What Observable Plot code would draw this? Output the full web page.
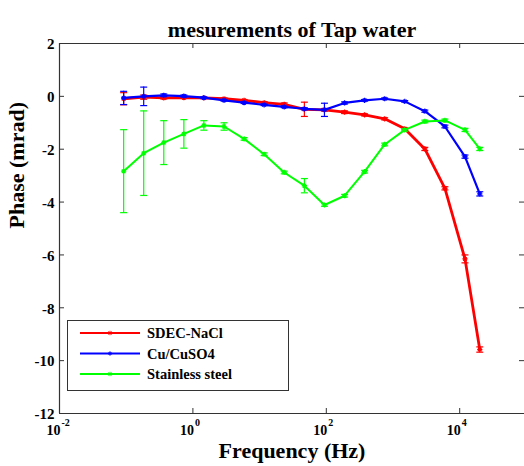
<!DOCTYPE html>
<html>
<head>
<meta charset="utf-8">
<script src="https://cdn.jsdelivr.net/npm/d3@7"></script>
<script src="https://cdn.jsdelivr.net/npm/@observablehq/plot@0.6"></script>
<style>
  html, body { margin: 0; padding: 0; background: white; }
  #chart svg { display: block; }
</style>
</head>
<body>
<div id="chart"></div>
<script>
// Frequencies (Hz)
const freq = [0.0916, 0.183, 0.366, 0.732, 1.46, 2.93, 5.86, 11.7, 23.4, 46.9, 93.8, 188, 375, 750, 1500, 3000, 6000, 12000, 20000];
// Phase (mrad) and error half-widths
const sdecNaCl = [-0.09, -0.03, -0.06, -0.05, -0.06, -0.09, -0.15, -0.24, -0.30, -0.49, -0.51, -0.60, -0.70, -0.85, -1.23, -1.99, -3.48, -6.15, -9.58];
const sdecErr  = [0.23, 0.08, 0.04, 0.03, 0.03, 0.03, 0.03, 0.04, 0.05, 0.27, 0.05, 0.05, 0.04, 0.04, 0.04, 0.06, 0.06, 0.15, 0.10];
const cuCuSO4  = [-0.06, 0.00, 0.04, 0.01, -0.05, -0.15, -0.24, -0.32, -0.40, -0.47, -0.51, -0.25, -0.15, -0.09, -0.19, -0.56, -1.14, -2.28, -3.69];
const cuErr    = [0.25, 0.35, 0.05, 0.04, 0.03, 0.03, 0.03, 0.03, 0.03, 0.04, 0.25, 0.04, 0.03, 0.03, 0.03, 0.04, 0.05, 0.06, 0.08];
const steel    = [-2.83, -2.15, -1.75, -1.42, -1.10, -1.14, -1.61, -2.19, -2.88, -3.38, -4.11, -3.76, -2.85, -1.82, -1.27, -0.95, -0.91, -1.27, -1.99];
const steelErr = [1.57, 1.60, 0.83, 0.54, 0.18, 0.14, 0.05, 0.05, 0.05, 0.27, 0.05, 0.05, 0.05, 0.05, 0.05, 0.05, 0.05, 0.06, 0.06];

const seriesNames = ["SDEC-NaCl", "Cu/CuSO4", "Stainless steel"];
const seriesColors = ["#ff0000", "#0000ff", "#00ff00"];
const seriesWidths = [2.8, 2.2, 2];

const yTicks = [-12, -10, -8, -6, -4, -2, 0, 2];
const xTicks = [1e-2, 1e0, 1e2, 1e4];

const title = "mesurements of Tap water";
const xLabel = "Frequency (Hz)";
const yLabel = "Phase (mrad)";

const values = [sdecNaCl, cuCuSO4, steel];
const errs = [sdecErr, cuErr, steelErr];
const rows = [];
values.forEach((vals, s) => vals.forEach((v, i) => rows.push({
  series: seriesNames[s], f: freq[i], v, e: errs[s][i]
})));

const serif = "'Liberation Serif', 'Times New Roman', Times, serif";

const hline = {draw(ctx, size) { const r = Math.sqrt(size / Math.PI); ctx.moveTo(-r, 0); ctx.lineTo(r, 0); }};
const cross = {draw(ctx, size) { const r = Math.sqrt(size / Math.PI);
  ctx.moveTo(-r, 0); ctx.lineTo(r, 0); ctx.moveTo(0, -r); ctx.lineTo(0, r);
  const q = r * 0.7; ctx.moveTo(-q, -q); ctx.lineTo(q, q); ctx.moveTo(-q, q); ctx.lineTo(q, -q); }};

const W = 524, H = 466, ML = 59, MT = 43, MB = 53, MR = 0;
const plotW = W - ML - MR, plotH = H - MT - MB;
const axisColor = "#333";

const seriesMarks = seriesNames.flatMap((name, s) => {
  const d = rows.filter(r => r.series === name);
  return [
    Plot.line(d, {x: "f", y: "v", stroke: seriesColors[s], strokeWidth: seriesWidths[s]}),
    Plot.ruleX(d, {x: "f", y1: r => r.v - r.e, y2: r => r.v + r.e, stroke: seriesColors[s], strokeWidth: 1.2}),
    Plot.dot(d, {x: "f", y: r => r.v + r.e, symbol: hline, r: 3.5, stroke: seriesColors[s], strokeWidth: 1.2}),
    Plot.dot(d, {x: "f", y: r => r.v - r.e, symbol: hline, r: 3.5, stroke: seriesColors[s], strokeWidth: 1.2}),
    Plot.dot(d, {x: "f", y: "v", symbol: cross, r: 2.6, stroke: seriesColors[s], strokeWidth: 1.2})
  ];
});

const chart = Plot.plot({
  width: W, height: H,
  marginLeft: ML, marginTop: MT, marginBottom: MB, marginRight: MR,
  style: {fontFamily: serif, background: "white", overflow: "visible"},
  x: {type: "log", domain: [1e-2, 1e5], range: [ML, ML + 7 * 66.7], axis: null},
  y: {domain: [-12, 2], axis: null},
  marks: [
    ...seriesMarks,
    // axes box
    Plot.ruleY([2, -12], {stroke: axisColor, strokeWidth: 1.2}),
    Plot.ruleX([1e-2], {stroke: axisColor, strokeWidth: 1.2}),
    // inward ticks
    Plot.tickY(yTicks, {y: d => d, insetRight: plotW - 5, stroke: axisColor}),
    Plot.tickY(yTicks, {y: d => d, insetLeft: plotW - 5, stroke: axisColor}),
    Plot.tickX(xTicks, {x: d => d, insetTop: plotH - 5, stroke: axisColor}),
    Plot.tickX(xTicks, {x: d => d, insetBottom: plotH - 5, stroke: axisColor}),
    // tick labels
    Plot.text(yTicks, {y: d => d, frameAnchor: "left", text: d => String(d), textAnchor: "end", dx: -5, dy: 1, fontSize: 15, fontWeight: "bold", fill: "black"}),
    Plot.text(xTicks, {x: d => d, frameAnchor: "bottom", text: () => "10", textAnchor: "end", dx: 1, dy: 21, fontSize: 14, fontWeight: "bold", fill: "black"}),
    Plot.text(xTicks, {x: d => d, frameAnchor: "bottom", text: d => String(Math.round(Math.log10(d))), textAnchor: "start", dx: 2, dy: 12, fontSize: 10, fontWeight: "bold", fill: "black"}),
    // title and axis labels
    Plot.text([title], {frameAnchor: "top", text: d => d, dy: -22, fontSize: 22, fontWeight: "bold", fill: "black"}),
    Plot.text([xLabel], {frameAnchor: "bottom", text: d => d, dy: 44, fontSize: 22, fontWeight: "bold", fill: "black"}),
    Plot.text([yLabel], {frameAnchor: "left", text: d => d, dx: -43, rotate: -90, fontSize: 22, fontWeight: "bold", fill: "black"})
  ]
});

// Legend box
const svg = d3.select(chart);
const lg = svg.append("g").attr("font-family", serif).attr("text-anchor", "start");
lg.append("rect").attr("x", 67.5).attr("y", 320.5).attr("width", 221).attr("height", 70)
  .attr("fill", "white").attr("stroke", axisColor).attr("stroke-width", 1);
seriesNames.forEach((name, i) => {
  const y = 333 + i * 20.5;
  lg.append("line").attr("x1", 80).attr("x2", 140).attr("y1", y).attr("y2", y)
    .attr("stroke", seriesColors[i]).attr("stroke-width", 2);
  lg.append("path").attr("d", d3.symbol(cross, Math.PI * 2.2 * 2.2)()).attr("transform", `translate(110,${y})`)
    .attr("stroke", seriesColors[i]).attr("fill", "none").attr("stroke-width", 1);
  lg.append("text").attr("x", 147).attr("y", y).attr("dy", "0.35em").attr("text-anchor", "start")
    .attr("font-size", 14.5).attr("font-weight", "bold").attr("fill", "black").text(name);
});

document.getElementById("chart").appendChild(chart);
</script>
</body>
</html>
